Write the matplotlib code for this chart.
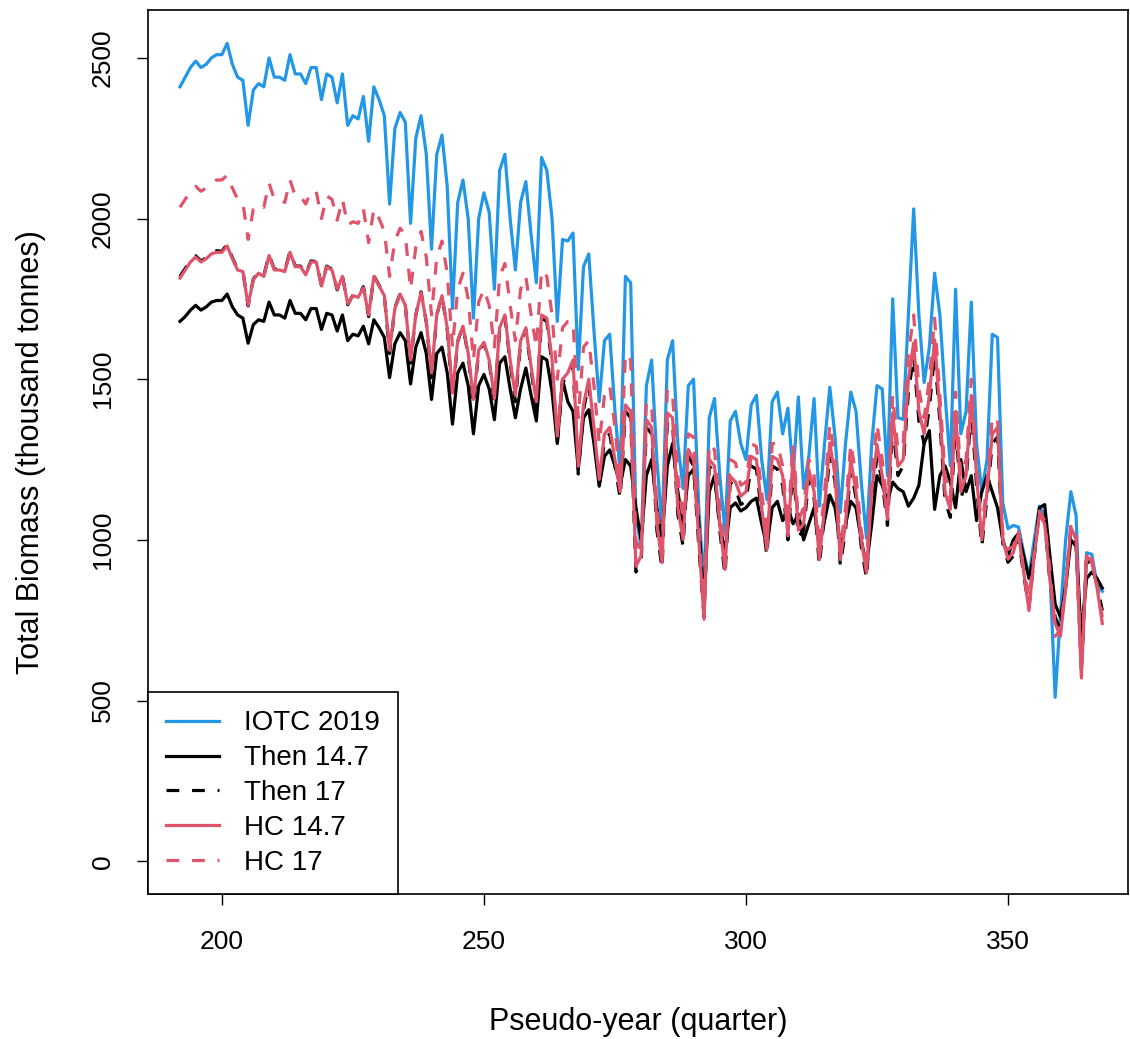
import matplotlib
matplotlib.use("Agg")
import matplotlib.pyplot as plt

# quarters on the x axis
quarters = list(range(192, 369))

iotc_2019 = [
    2410, 2440, 2470, 2490, 2470, 2480, 2500, 2510,
    2510, 2545, 2480, 2440, 2430, 2290, 2400, 2420,
    2410, 2500, 2440, 2440, 2430, 2510, 2450, 2450,
    2420, 2470, 2470, 2370, 2450, 2440, 2360, 2450,
    2290, 2320, 2310, 2380, 2240, 2410, 2370, 2320,
    2045, 2280, 2330, 2300, 1985, 2250, 2320, 2200,
    1905, 2200, 2260, 2100, 1720, 2050, 2120, 2000,
    1690, 2000, 2080, 2020, 1780, 2150, 2200, 2000,
    1840, 2050, 2115, 1950, 1800, 2190, 2150, 2000,
    1680, 1935, 1930, 1955, 1530, 1850, 1890, 1650,
    1430, 1620, 1640, 1400, 1210, 1820, 1800, 1075,
    980, 1480, 1560, 1250, 1035, 1560, 1620, 1300,
    1160, 1480, 1500, 1100, 850, 1380, 1440, 1200,
    1025, 1370, 1400, 1300, 1250, 1420, 1450, 1250,
    1125, 1430, 1460, 1330, 1410, 1200, 1445, 1160,
    1260, 1440, 1105, 1300, 1475, 1320, 1085, 1300,
    1460, 1400, 1180, 1005, 1300, 1480, 1470, 1200,
    1750, 1380, 1375, 1700, 2030, 1700, 1490, 1600,
    1830, 1700, 1450, 1230, 1780, 1330, 1400, 1740,
    1300, 1150, 1250, 1640, 1630, 1116, 1035, 1045,
    1040, 960, 887, 1000, 1105, 1075, 900, 510,
    765, 1000, 1150, 1075, 610, 960, 955, 860,
    840,
]

then_147 = [
    1680, 1695, 1715, 1730, 1715, 1725, 1740, 1745,
    1745, 1765, 1725, 1700, 1690, 1612, 1670, 1685,
    1680, 1740, 1700, 1700, 1690, 1745, 1705, 1705,
    1685, 1720, 1720, 1655, 1705, 1700, 1650, 1700,
    1620, 1640, 1635, 1665, 1610, 1685, 1660, 1630,
    1505, 1610, 1645, 1620, 1485, 1600, 1645, 1580,
    1437, 1580, 1600, 1520, 1360, 1520, 1550, 1480,
    1330, 1480, 1515, 1470, 1374, 1550, 1570, 1470,
    1380, 1470, 1535, 1450, 1370, 1570, 1560, 1460,
    1300, 1500, 1430, 1400, 1220, 1380, 1405, 1300,
    1167, 1260, 1280, 1230, 1170, 1250, 1230, 1100,
    1000, 1200, 1250, 1100, 1000, 1230, 1300, 1150,
    1050, 1200, 1220, 1050, 800, 1150, 1200, 1050,
    960, 1100, 1115, 1090, 1100, 1120, 1130, 1050,
    980, 1100, 1120, 1060, 1100, 1050, 1080, 1000,
    1050, 1100, 980, 1060, 1140, 1100, 990, 1050,
    1120, 1100, 1000, 920, 1050, 1200, 1170, 1120,
    1180, 1160, 1150, 1105, 1130, 1170, 1300, 1340,
    1095, 1200, 1230, 1180, 1100, 1250, 1150, 1200,
    1060, 1150, 1200, 1150, 1100, 1000, 950, 1000,
    1020, 950, 880, 960, 1100, 1110, 950, 800,
    760, 850, 1000, 980, 700, 880, 900, 880,
    850,
]

then_17 = [
    1820, 1845, 1868, 1884, 1868, 1878, 1893, 1900,
    1898, 1920, 1878, 1842, 1838, 1728, 1812, 1833,
    1822, 1888, 1842, 1843, 1838, 1898, 1852, 1852,
    1828, 1868, 1866, 1792, 1852, 1842, 1778, 1822,
    1732, 1762, 1756, 1788, 1695, 1822, 1792, 1760,
    1580, 1722, 1766, 1730, 1550, 1700, 1772, 1678,
    1505, 1700, 1760, 1655, 1440, 1618, 1664, 1575,
    1420, 1588, 1612, 1555, 1425, 1655, 1695, 1552,
    1430, 1615, 1655, 1530, 1410, 1690, 1680, 1545,
    1300, 1490, 1510, 1545, 1205, 1405, 1485, 1330,
    1170, 1310, 1330, 1230, 1130, 1400, 1380, 900,
    930, 1350, 1330, 1030, 910, 1370, 1360, 1080,
    980, 1260, 1230, 980, 760, 1230, 1210, 1030,
    890, 1180, 1160, 1110, 1120, 1230, 1220, 1080,
    950, 1230, 1220, 1170, 1000, 1230, 1010, 1030,
    1190, 1130, 920, 1080, 1270, 1180, 920, 1030,
    1220, 1130, 980, 880, 1120, 1260, 1180, 1045,
    1360, 1200, 1230, 1460, 1570, 1370, 1300, 1410,
    1580, 1370, 1120, 1070, 1360, 1130, 1180, 1410,
    1170, 980, 1130, 1300, 1320, 990, 930, 950,
    1010, 890, 790, 945, 1090, 1060, 870, 760,
    720, 860, 1030, 990, 600, 940, 920, 860,
    780,
]

hc_147 = [
    1815, 1840, 1865, 1880, 1865, 1875, 1890, 1895,
    1895, 1915, 1875, 1840, 1835, 1730, 1810, 1830,
    1820, 1885, 1840, 1840, 1835, 1895, 1850, 1850,
    1825, 1865, 1865, 1790, 1850, 1840, 1780, 1820,
    1735, 1760, 1755, 1785, 1700, 1820, 1790, 1760,
    1590, 1720, 1765, 1730, 1560, 1700, 1770, 1680,
    1520, 1700, 1760, 1660, 1457, 1620, 1665, 1580,
    1437, 1590, 1615, 1560, 1440, 1660, 1700, 1560,
    1450, 1620, 1660, 1540, 1430, 1700, 1690, 1560,
    1323, 1500, 1520, 1560, 1229, 1420, 1500, 1350,
    1188, 1330, 1350, 1250, 1150, 1420, 1400, 918,
    950, 1374, 1350, 1050, 929, 1395, 1380, 1100,
    1001, 1281, 1250, 1000, 753, 1250, 1230, 1050,
    908, 1198, 1180, 1136, 1150, 1260, 1250, 1100,
    970, 1260, 1250, 1200, 1012, 1260, 1030, 1050,
    1219, 1150, 939, 1100, 1302, 1200, 939, 1050,
    1250, 1150, 1000, 898, 1150, 1297, 1200, 1064,
    1395, 1229, 1250, 1500, 1613, 1400, 1330, 1450,
    1623, 1400, 1147, 1095, 1400, 1150, 1200, 1450,
    1200, 1000, 1150, 1330, 1350, 1000, 940, 960,
    1020, 900, 780, 950, 1080, 1050, 880, 740,
    700, 850, 1040, 1000, 570, 950, 930, 850,
    740,
]

hc_17 = [
    2035, 2060, 2085, 2100, 2085, 2095, 2110, 2120,
    2120, 2135, 2095, 2060, 2050, 1935, 2030, 2045,
    2035, 2110, 2060, 2060, 2050, 2120, 2070, 2070,
    2045, 2085, 2085, 2000, 2070, 2060, 1995, 2060,
    1980, 1990, 1985, 2030, 1925, 2030, 2000, 1960,
    1820, 1930, 1970, 1950, 1780, 1910, 1960, 1880,
    1700, 1880, 1930, 1830, 1600, 1780, 1830, 1750,
    1560, 1740, 1780, 1730, 1600, 1820, 1860, 1730,
    1620, 1780, 1820, 1700, 1600, 1840, 1820, 1700,
    1500, 1660, 1680, 1680, 1380, 1600, 1620, 1480,
    1300, 1450, 1480, 1350, 1180, 1580, 1560, 1000,
    960, 1430, 1420, 1100, 980, 1470, 1450, 1200,
    1060, 1330, 1320, 1050, 780, 1300, 1280, 1100,
    950, 1250, 1240, 1170, 1180, 1300, 1290, 1150,
    1010, 1300, 1300, 1230, 1050, 1300, 1060, 1100,
    1250, 1200, 980, 1150, 1360, 1250, 970, 1100,
    1300, 1200, 1030, 930, 1200, 1360, 1250, 1100,
    1450, 1280, 1300, 1580, 1700, 1470, 1380, 1500,
    1690, 1450, 1200, 1130, 1460, 1200, 1250, 1500,
    1230, 1030, 1180, 1380, 1380, 1020, 970, 980,
    1030, 910, 820, 960, 1090, 1060, 910, 700,
    720, 860, 1050, 1010, 600, 960, 940, 860,
    760,
]

blau = "#2297E6"
rot = "#DF536B"
strich = (0, (4, 4))

plt.rcParams["font.family"] = ["Liberation Sans", "DejaVu Sans"]

fig = plt.figure(figsize=(11.3, 10.39), dpi=100)
ax = fig.add_axes([148 / 1130, 1 - 894 / 1039, 980 / 1130, 884 / 1039])

ax.plot(quarters, iotc_2019, color=blau, lw=2.3, label="IOTC 2019")
ax.plot(quarters, then_147, color="black", lw=2.3, label="Then 14.7")
ax.plot(quarters, then_17, color="black", lw=2.3, ls=strich, label="Then 17")
ax.plot(quarters, hc_147, color=rot, lw=2.3, label="HC 14.7")
ax.plot(quarters, hc_17, color=rot, lw=2.3, ls=strich, label="HC 17")

ax.set_xlim(185.9, 372.9)
ax.set_ylim(-102, 2649)
ax.set_xticks([200, 250, 300, 350])
ax.set_yticks([0, 500, 1000, 1500, 2000, 2500])
ax.tick_params(length=8, width=1, labelsize=19)
ax.tick_params(axis="x", pad=18)
ax.tick_params(axis="y", pad=16)
for lab in ax.get_yticklabels():
    lab.set_rotation(90)
    lab.set_va("center")
for s in ax.spines.values():
    s.set_linewidth(1.2)

ax.set_xlabel("Pseudo-year (quarter)", fontsize=22, labelpad=38)
ax.set_ylabel("Total Biomass (thousand tonnes)", fontsize=22, labelpad=32)

leg = ax.legend(loc="lower left", fontsize=20, frameon=True, fancybox=False,
                edgecolor="black", framealpha=1, borderaxespad=0,
                handlelength=1.9, handletextpad=0.9, labelspacing=0.32,
                borderpad=0.65)
leg.get_frame().set_linewidth(1.2)

fig.savefig("out.png", dpi=100)
